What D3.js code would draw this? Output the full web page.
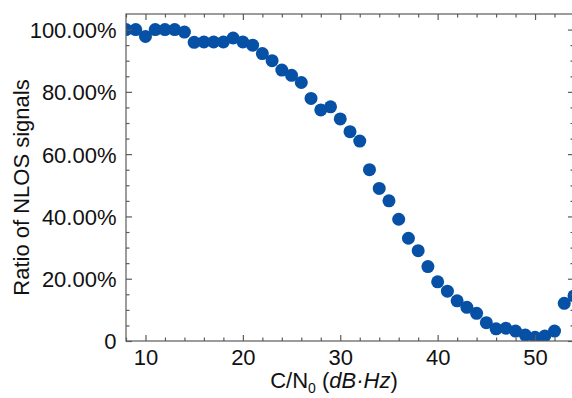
<!DOCTYPE html>
<html>
<head>
<meta charset="utf-8">
<script src="https://cdn.jsdelivr.net/npm/d3@7"></script>
<style>
    body { margin: 0; background: #fff; }
    svg { display: block; font-family: "Liberation Sans", Arial, sans-serif; }
</style>
</head>
<body>
<div id="chart"></div>
<script>
// C/N0 in dB-Hz
const cn0 = d3.range(8, 55);
// ratio of NLOS signals (%), one per C/N0 value
const nlosRatio = [100, 100, 97.8, 100, 100, 100, 99.2, 95.9, 96, 96,
    96, 97.3, 96, 95, 92.3, 90, 87, 85.3, 83, 77.9,
    74.2, 75.2, 71.3, 67.2, 64.2, 55, 49, 45, 39.1, 33,
    29, 23.9, 19, 16, 12.9, 10.8, 8.9, 5.9, 3.9, 4.1,
    3.2, 1.9, 1.2, 1.6, 3.2, 12.1, 14.5];
const xTicks = [10, 20, 30, 40, 50];
const yTicks = [0, 20, 40, 60, 80, 100];
const yTickLabels = ["0", "20.00%", "40.00%", "60.00%", "80.00%", "100.00%"];

const width = 572, height = 398;
const plot = { left: 126, right: 574, top: 14, bottom: 341 };
const axisColor = "#5b5b5b";
const dotColor = "#0651a6";

const svg = d3.select("#chart").append("svg")
    .attr("width", width)
    .attr("height", height);

const x = d3.scaleLinear().domain([8, 54]).range([plot.left, plot.right]);
const y = d3.scaleLinear().domain([0, 105]).range([plot.bottom, plot.top]);

svg.append("clipPath")
    .attr("id", "plot-clip")
    .append("rect")
    .attr("x", plot.left)
    .attr("y", plot.top)
    .attr("width", plot.right - plot.left)
    .attr("height", plot.bottom - plot.top);

// points
svg.append("g")
    .attr("clip-path", "url(#plot-clip)")
    .selectAll("circle")
    .data(cn0.map((c, i) => ({ c: c, r: nlosRatio[i] })))
    .join("circle")
    .attr("cx", d => x(d.c))
    .attr("cy", d => y(d.r))
    .attr("r", 6.5)
    .attr("fill", dotColor);

// frame
svg.append("rect")
    .attr("x", plot.left)
    .attr("y", plot.top)
    .attr("width", plot.right - plot.left)
    .attr("height", plot.bottom - plot.top)
    .attr("fill", "none")
    .attr("stroke", axisColor)
    .attr("stroke-width", 1.2);

const xMinor = d3.range(8, 55, 2).filter(v => v % 10 !== 0);
const yMinor = d3.range(5, 105, 5).filter(v => v % 20 !== 0);

// axis helper, ticks point inward
function drawAxis(axis, tx, ty, cls) {
    const g = svg.append("g")
        .attr("class", cls)
        .attr("transform", `translate(${tx},${ty})`)
        .call(axis);
    g.select(".domain").remove();
    g.selectAll(".tick line").attr("stroke", axisColor).attr("stroke-width", 1.2);
    g.selectAll(".tick text")
        .attr("fill", "#111")
        .style("font-size", "22px")
        .style("font-family", "'Liberation Sans', Arial, sans-serif");
    return g;
}

drawAxis(d3.axisBottom(x).tickValues(xTicks).tickSize(-6).tickPadding(8.5), 0, plot.bottom, "x-axis");
drawAxis(d3.axisBottom(x).tickValues(xMinor).tickSize(-3.5).tickFormat(""), 0, plot.bottom, "x-minor");
drawAxis(d3.axisTop(x).tickValues(xTicks).tickSize(-6).tickFormat(""), 0, plot.top, "x-top");
drawAxis(d3.axisTop(x).tickValues(xMinor).tickSize(-3.5).tickFormat(""), 0, plot.top, "x-top-minor");

drawAxis(d3.axisLeft(y).tickValues(yTicks).tickSize(-6).tickPadding(9.5)
    .tickFormat((d, i) => yTickLabels[i]), plot.left, 0, "y-axis")
    .selectAll(".tick text").attr("dy", "0.36em");
drawAxis(d3.axisLeft(y).tickValues(yMinor).tickSize(-3.5).tickFormat(""), plot.left, 0, "y-minor");
drawAxis(d3.axisRight(y).tickValues(yTicks).tickSize(-6).tickFormat(""), plot.right, 0, "y-right");
drawAxis(d3.axisRight(y).tickValues(yMinor).tickSize(-3.5).tickFormat(""), plot.right, 0, "y-right-minor");

// axis titles
const xLabel = svg.append("text")
    .attr("x", 334)
    .attr("y", 388)
    .attr("text-anchor", "middle")
    .attr("fill", "#111")
    .style("font-size", "22px");
xLabel.append("tspan").text("C/N");
xLabel.append("tspan").attr("dy", 5).style("font-size", "14px").text("0");
xLabel.append("tspan").attr("dy", -5).text(" (");
xLabel.append("tspan").style("font-style", "italic").text("dB·Hz");
xLabel.append("tspan").text(")");

svg.append("text")
    .attr("transform", `translate(29,${(plot.top + plot.bottom) / 2 + 10}) rotate(-90)`)
    .attr("text-anchor", "middle")
    .attr("fill", "#111")
    .style("font-size", "22px")
    .text("Ratio of NLOS signals");
</script>
</body>
</html>
